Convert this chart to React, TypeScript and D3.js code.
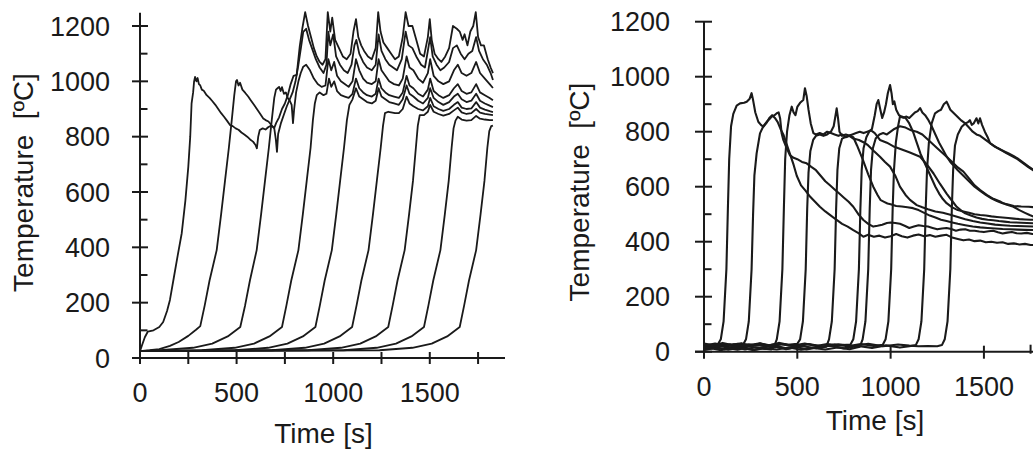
import React from 'react';
import * as d3 from 'd3';

type Pt = [number, number];

// ---------- shared tick values ----------
const yMajorTicks = [0, 200, 400, 600, 800, 1000, 1200];
const yMinorTicks = [100, 300, 500, 700, 900, 1100];
const xLabelTicks = [0, 500, 1000, 1500];
const xTicksLeft = [0, 250, 500, 750, 1000, 1250, 1500, 1750];
const xTicksRightMajor = [0, 500, 1000, 1500];
const xTicksRightMinor = [1750];
const yTitle = 'Temperature  [ºC]';
const xTitle = 'Time [s]';

// ---------- left panel series (time s, temperature °C) ----------
const left1: Pt[] = [[0,25],[10,45],[25,75],[40,95],[70,100],[100,112],[120,130],[140,170],[155,210],[175,290],[195,370],[216,451],[235,570],[250,691],[260,800],[267,920],[275,960],[280,1000],[285,1016],[292,1000],[298,1012],[305,990],[312,985],[320,970],[330,966],[345,950],[360,940],[375,928],[390,915],[405,900],[420,885],[435,872],[450,858],[466,842],[480,838],[495,830],[510,825],[525,815],[540,808],[555,800],[570,790],[585,782],[598,770],[605,758],[612,800],[620,824],[635,830],[650,826],[665,835],[680,840],[695,832],[705,850],[720,870],[735,900],[750,920],[765,950],[780,990],[795,1020],[811,1023],[827,1127],[840,1190],[855,1250],[870,1200],[885,1160],[900,1120],[915,1090],[930,1070],[945,1060],[960,1080],[972,1250],[985,1180],[995,1230],[1010,1150],[1030,1120],[1050,1090],[1070,1080],[1090,1100],[1105,1180],[1118,1225],[1130,1160],[1145,1130],[1160,1110],[1180,1090],[1200,1080],[1220,1120],[1233,1250],[1245,1180],[1260,1140],[1280,1120],[1300,1100],[1320,1080],[1340,1090],[1360,1160],[1375,1250],[1390,1200],[1410,1200],[1430,1150],[1450,1100],[1470,1090],[1490,1160],[1500,1225],[1510,1150],[1525,1100],[1545,1080],[1560,1070],[1580,1090],[1600,1120],[1620,1200],[1640,1190],[1655,1180],[1670,1150],[1680,1170],[1695,1130],[1710,1180],[1725,1200],[1738,1250],[1750,1160],[1765,1130],[1780,1130],[1800,1080],[1815,1050],[1827,1030]];
const left2: Pt[] = [[0,25],[50,28],[100,32],[155,44],[200,58],[250,80],[290,102],[312,115],[335,190],[360,280],[397,390],[420,520],[440,640],[460,760],[475,860],[488,950],[497,1000],[502,1005],[510,985],[518,995],[530,970],[545,958],[560,945],[575,930],[590,915],[605,900],[620,885],[638,866],[650,860],[665,855],[680,842],[695,830],[703,790],[709,745],[715,810],[730,850],[745,880],[760,910],[775,935],[790,960],[805,1000],[820,1060],[835,1130],[845,1179],[860,1190],[875,1150],[890,1120],[910,1080],[930,1050],[950,1030],[965,1060],[975,1180],[985,1130],[1000,1170],[1015,1090],[1035,1060],[1055,1040],[1075,1030],[1095,1060],[1110,1130],[1120,1150],[1135,1100],[1155,1070],[1175,1050],[1200,1040],[1220,1060],[1235,1170],[1250,1110],[1270,1080],[1290,1060],[1310,1050],[1330,1040],[1355,1080],[1375,1180],[1390,1130],[1410,1120],[1430,1090],[1455,1060],[1475,1050],[1490,1110],[1502,1160],[1515,1090],[1535,1060],[1555,1040],[1575,1050],[1600,1070],[1620,1120],[1640,1130],[1660,1100],[1680,1080],[1700,1100],[1720,1110],[1740,1160],[1755,1110],[1775,1080],[1795,1060],[1815,1030],[1827,1005]];
const left3: Pt[] = [[0,25],[104,28],[274,37],[374,52],[454,78],[519,112],[544,190],[569,280],[604,390],[627,520],[647,640],[667,760],[682,860],[695,940],[704,970],[712,975],[720,980],[728,965],[735,979],[745,955],[755,960],[765,940],[775,930],[785,915],[792,849],[798,900],[808,960],[820,1000],[832,1030],[845,1053],[860,1060],[880,1040],[900,1010],[920,990],[940,980],[960,985],[975,1080],[990,1040],[1005,1070],[1020,1020],[1040,1000],[1060,990],[1080,980],[1100,1000],[1118,1080],[1135,1040],[1155,1010],[1175,995],[1200,990],[1220,1000],[1235,1080],[1250,1040],[1270,1020],[1290,1000],[1315,990],[1340,985],[1360,1010],[1380,1090],[1395,1050],[1415,1040],[1440,1010],[1465,995],[1490,1030],[1502,1080],[1520,1020],[1545,1000],[1570,990],[1600,1000],[1625,1040],[1645,1060],[1665,1030],[1690,1020],[1715,1030],[1740,1070],[1760,1030],[1785,1010],[1810,990],[1827,976]];
const left4: Pt[] = [[0,25],[320,28],[490,37],[590,52],[670,78],[735,112],[758,190],[783,280],[820,390],[843,520],[863,640],[883,760],[895,860],[905,920],[915,950],[930,960],[950,950],[965,955],[978,1010],[990,980],[1005,1000],[1020,965],[1040,950],[1060,945],[1080,940],[1100,955],[1118,1010],[1135,975],[1155,960],[1175,950],[1200,945],[1220,955],[1235,1010],[1250,975],[1270,960],[1290,950],[1315,945],[1340,940],[1360,960],[1380,1020],[1395,985],[1415,975],[1440,955],[1465,945],[1490,970],[1502,1010],[1520,965],[1545,950],[1570,940],[1600,950],[1625,975],[1645,990],[1665,965],[1690,955],[1715,960],[1740,990],[1760,960],[1785,950],[1810,940],[1827,932]];
const left5: Pt[] = [[0,25],[493,28],[663,37],[763,52],[843,78],[908,112],[931,190],[956,280],[993,390],[1016,520],[1036,640],[1056,760],[1071,860],[1084,915],[1100,935],[1118,975],[1135,945],[1155,935],[1175,925],[1200,920],[1220,930],[1235,975],[1250,945],[1270,935],[1290,925],[1315,920],[1340,915],[1360,935],[1380,985],[1395,955],[1415,945],[1440,930],[1465,920],[1490,940],[1502,975],[1520,940],[1545,925],[1570,915],[1600,925],[1625,945],[1645,955],[1665,935],[1690,925],[1715,930],[1740,955],[1760,930],[1785,920],[1810,912],[1827,907]];
const left6: Pt[] = [[0,25],[683,28],[853,37],[953,52],[1033,78],[1098,112],[1121,190],[1146,280],[1183,390],[1206,520],[1226,640],[1246,760],[1258,840],[1268,885],[1285,890],[1300,888],[1320,885],[1340,885],[1360,900],[1380,945],[1395,920],[1415,910],[1440,900],[1465,895],[1490,910],[1502,940],[1520,910],[1545,900],[1570,893],[1600,900],[1625,915],[1645,925],[1665,905],[1690,900],[1715,902],[1740,925],[1760,905],[1785,898],[1810,892],[1827,889]];
const left7: Pt[] = [[0,25],[870,28],[1040,37],[1140,52],[1220,78],[1285,112],[1308,190],[1333,280],[1370,390],[1393,520],[1413,640],[1428,760],[1438,840],[1448,878],[1470,878],[1490,890],[1502,915],[1520,890],[1545,882],[1570,876],[1600,882],[1625,895],[1645,905],[1665,888],[1690,882],[1715,885],[1740,900],[1760,887],[1785,882],[1810,880],[1827,878]];
const left8: Pt[] = [[0,25],[1055,28],[1225,37],[1325,52],[1405,78],[1470,112],[1493,190],[1518,280],[1555,390],[1578,520],[1598,640],[1613,760],[1623,830],[1633,858],[1645,872],[1665,862],[1690,858],[1715,860],[1740,875],[1760,865],[1785,862],[1810,860],[1827,860]];
const left9: Pt[] = [[0,25],[1240,28],[1410,37],[1510,52],[1590,78],[1655,112],[1678,190],[1703,280],[1740,390],[1763,520],[1783,640],[1798,760],[1808,820],[1818,838],[1827,840]];

// ---------- right panel series ----------
const right1: Pt[] = [[0,20],[25,14],[50,24],[75,28],[90,45],[105,110],[120,300],[128,520],[135,700],[145,820],[157,865],[175,895],[193,903],[215,905],[229,909],[245,920],[255,940],[263,915],[275,870],[291,836],[305,825],[318,818],[335,832],[350,850],[365,860],[380,850],[395,835],[410,810],[425,790],[440,760],[460,720],[480,680],[497,640],[520,605],[545,585],[568,564],[595,545],[621,527],[650,510],[680,495],[711,479],[740,465],[770,455],[800,442],[830,430],[854,418],[880,425],[910,418],[940,422],[970,415],[1000,420],[1030,428],[1060,420],[1090,415],[1120,422],[1150,426],[1180,420],[1210,424],[1240,418],[1270,422],[1300,425],[1330,415],[1360,410],[1390,405],[1420,408],[1450,402],[1480,404],[1510,398],[1540,400],[1570,396],[1600,398],[1630,392],[1660,394],[1690,390],[1720,392],[1750,388],[1780,388]];
const right2: Pt[] = [[0,24],[40,17],[80,26],[120,19],[160,27],[195,22],[210,26],[225,45],[240,110],[255,300],[263,500],[270,640],[282,721],[300,794],[318,820],[336,836],[350,845],[363,855],[378,860],[390,867],[400,870],[408,848],[416,794],[425,770],[440,745],[460,715],[480,705],[500,700],[525,690],[550,685],[575,672],[600,660],[625,640],[650,620],[675,605],[700,590],[725,575],[750,560],[775,545],[800,527],[827,500],[854,479],[880,465],[907,455],[930,458],[955,462],[980,468],[1000,470],[1025,468],[1050,465],[1075,458],[1100,450],[1125,455],[1150,460],[1175,457],[1200,455],[1225,450],[1250,445],[1275,448],[1300,450],[1325,446],[1350,440],[1375,444],[1400,445],[1425,440],[1450,440],[1475,437],[1500,435],[1525,438],[1550,440],[1575,434],[1600,430],[1625,433],[1650,435],[1675,431],[1700,430],[1730,432],[1760,428],[1780,428]];
const right3: Pt[] = [[0,6],[45,12],[90,5],[135,13],[180,7],[225,14],[270,6],[315,12],[360,8],[375,18],[390,45],[405,110],[420,300],[428,520],[435,700],[445,800],[458,860],[470,891],[480,870],[490,860],[500,890],[515,905],[532,915],[541,958],[550,930],[560,880],[572,830],[586,795],[600,790],[620,795],[640,790],[660,800],[680,795],[700,790],[720,785],[740,790],[760,780],[780,785],[800,775],[830,770],[860,760],[880,750],[910,730],[943,709],[970,690],[997,673],[1025,640],[1050,600],[1080,570],[1104,552],[1140,533],[1170,525],[1200,518],[1240,510],[1280,505],[1320,498],[1360,490],[1400,482],[1440,475],[1480,470],[1520,466],[1560,462],[1600,460],[1640,458],[1680,457],[1720,456],[1780,455]];
const right4: Pt[] = [[0,30],[50,23],[100,32],[150,24],[200,31],[250,22],[300,30],[350,23],[400,32],[450,25],[500,29],[515,45],[530,110],[545,300],[553,520],[560,650],[570,730],[585,770],[600,785],[620,790],[640,785],[660,790],[680,800],[695,820],[705,860],[711,885],[718,850],[726,800],[740,785],[760,790],[780,785],[800,780],[820,750],[850,700],[880,645],[907,600],[930,570],[947,551],[965,545],[983,539],[1000,536],[1030,530],[1060,528],[1090,525],[1120,522],[1150,515],[1180,505],[1210,495],[1240,488],[1270,480],[1300,475],[1330,470],[1360,465],[1400,460],[1440,455],[1480,452],[1520,450],[1560,448],[1600,446],[1640,445],[1680,444],[1720,443],[1780,442]];
const right5: Pt[] = [[0,10],[55,18],[110,9],[165,17],[220,8],[275,16],[330,10],[385,18],[440,9],[495,17],[550,8],[605,16],[655,18],[670,45],[685,110],[700,300],[708,520],[715,660],[725,740],[740,775],[755,780],[775,785],[795,790],[815,795],[835,800],[855,795],[875,800],[895,805],[915,795],[943,770],[980,760],[1020,745],[1060,735],[1100,725],[1158,709],[1195,680],[1230,648],[1265,610],[1300,575],[1330,548],[1354,527],[1380,512],[1400,503],[1430,495],[1460,488],[1490,483],[1520,480],[1550,478],[1580,475],[1610,473],[1640,471],[1670,470],[1700,469],[1730,468],[1780,467]];
const right6: Pt[] = [[0,22],[60,30],[120,21],[180,29],[240,23],[300,31],[360,20],[420,28],[480,22],[540,30],[600,21],[660,28],[720,23],[785,26],[800,45],[815,110],[830,300],[838,520],[845,660],[855,740],[870,780],[885,800],[900,810],[915,860],[925,900],[934,915],[945,880],[955,850],[965,870],[975,900],[985,940],[997,970],[1005,940],[1012,900],[1020,910],[1030,880],[1045,860],[1060,855],[1080,850],[1100,830],[1120,800],[1140,760],[1160,720],[1180,690],[1200,660],[1220,630],[1240,600],[1260,575],[1280,555],[1300,540],[1330,525],[1360,515],[1390,510],[1420,505],[1450,500],[1480,497],[1510,495],[1540,492],[1570,490],[1600,488],[1630,486],[1660,484],[1690,482],[1720,481],[1750,480],[1780,480]];
const right7: Pt[] = [[0,8],[65,14],[130,7],[195,15],[260,6],[325,13],[390,8],[455,15],[520,7],[585,14],[650,8],[715,15],[780,9],[835,18],[850,45],[865,110],[880,300],[888,520],[895,660],[905,740],[920,775],[940,790],[960,795],[980,790],[1000,800],[1020,810],[1050,820],[1080,815],[1110,805],[1140,800],[1170,790],[1211,764],[1250,740],[1290,715],[1330,690],[1360,670],[1390,655],[1420,630],[1450,605],[1480,588],[1515,570],[1550,556],[1590,545],[1620,535],[1658,527],[1690,515],[1720,505],[1745,497],[1780,488]];
const right8: Pt[] = [[0,26],[70,19],[140,27],[210,18],[280,26],[350,20],[420,28],[490,19],[560,27],[630,18],[700,26],[770,20],[840,28],[910,21],[958,25],[973,45],[988,110],[1003,300],[1011,520],[1018,660],[1028,760],[1040,820],[1050,855],[1068,851],[1085,855],[1100,850],[1115,860],[1130,870],[1145,875],[1158,886],[1170,870],[1185,860],[1200,845],[1220,820],[1240,790],[1260,760],[1280,735],[1300,710],[1320,690],[1340,675],[1360,660],[1390,640],[1420,620],[1450,600],[1480,585],[1510,570],[1540,558],[1570,548],[1600,540],[1630,535],[1660,530],[1700,528],[1740,527],[1780,525]];
const right9: Pt[] = [[0,14],[75,22],[150,12],[225,21],[300,13],[375,23],[450,11],[525,20],[600,13],[675,22],[750,12],[825,21],[900,14],[975,23],[1050,15],[1100,20],[1135,24],[1150,45],[1165,110],[1180,300],[1188,520],[1195,660],[1205,760],[1220,830],[1238,867],[1255,875],[1270,880],[1285,900],[1300,909],[1310,895],[1320,880],[1335,870],[1350,860],[1365,850],[1380,840],[1400,830],[1420,815],[1440,800],[1460,790],[1480,785],[1500,775],[1520,765],[1540,755],[1560,745],[1580,738],[1600,730],[1620,722],[1640,715],[1660,708],[1680,700],[1700,690],[1720,680],[1740,670],[1763,660],[1780,655]];
const right10: Pt[] = [[0,20],[80,28],[160,19],[240,27],[320,21],[400,29],[480,20],[560,28],[640,19],[720,27],[800,21],[880,29],[960,20],[1040,26],[1100,22],[1150,20],[1200,21],[1250,20],[1275,24],[1290,45],[1305,110],[1320,300],[1328,520],[1335,660],[1345,750],[1360,790],[1381,818],[1400,830],[1415,835],[1425,842],[1435,825],[1445,830],[1460,849],[1470,830],[1479,849],[1490,825],[1505,800],[1520,780],[1533,758],[1550,750],[1570,742],[1590,735],[1610,728],[1630,722],[1658,712],[1680,703],[1700,693],[1720,683],[1740,673],[1763,663],[1780,658]];

const leftSeries = [left1, left2, left3, left4, left5, left6, left7, left8, left9];
const rightSeries = [right1, right2, right3, right4, right5, right6, right7, right8, right9, right10];

const FONT = '"Liberation Sans", Arial, Helvetica, sans-serif';
const INK = '#1a1a1a';

type PanelProps = {
  series: Pt[][];
  x: d3.ScaleLinear<number, number>;
  y: d3.ScaleLinear<number, number>;
  axisTop: number;
  xAxisStart: number;
  xAxisEnd: number;
  xMajor: number[];
  xMinor: number[];
  xMajorUp: number;
  xMajorDown: number;
  yMajorLeft: number;
  yMajorRight: number;
  yMinorRight: number;
  yLabelX: number;
  xLabelY: number;
  xTitleX: number;
  xTitleY: number;
  yTitleX: number;
  yTitleY: number;
  lineWidth: number;
  clipId: string;
  clipTop: number;
};

function Panel(p: PanelProps) {
  const line = d3.line<Pt>().x(d => p.x(d[0])).y(d => p.y(d[1]));
  const y0 = p.y(0);
  const ax = p.x(0);
  return (
    <g>
      <defs>
        <clipPath id={p.clipId}>
          <rect x={ax} y={p.clipTop} width={p.xAxisEnd - ax + 40} height={y0 - p.clipTop + 2} />
        </clipPath>
      </defs>
      <g clipPath={`url(#${p.clipId})`} fill="none" stroke={INK} strokeWidth={p.lineWidth} strokeLinejoin="round">
        {p.series.map((s, i) => (
          <path key={i} d={line(s) || ''} />
        ))}
      </g>
      <g stroke={INK} strokeWidth={2} fill="none">
        <line x1={ax} x2={ax} y1={p.axisTop} y2={y0} />
        <line x1={p.xAxisStart} x2={p.xAxisEnd} y1={y0} y2={y0} />
        {yMajorTicks.map(v => (
          <line key={'ym' + v} x1={ax - p.yMajorLeft} x2={ax + p.yMajorRight} y1={p.y(v)} y2={p.y(v)} />
        ))}
        {yMinorTicks.map(v => (
          <line key={'yn' + v} x1={ax} x2={ax + p.yMinorRight} y1={p.y(v)} y2={p.y(v)} />
        ))}
        {p.xMajor.map(v => (
          <line key={'xm' + v} x1={p.x(v)} x2={p.x(v)} y1={y0 - p.xMajorUp} y2={y0 + p.xMajorDown} />
        ))}
        {p.xMinor.map(v => (
          <line key={'xn' + v} x1={p.x(v)} x2={p.x(v)} y1={y0 - 7} y2={y0 + 2} />
        ))}
      </g>
      <g fill={INK} fontFamily={FONT} fontSize={27}>
        {yMajorTicks.map(v => (
          <text key={'yl' + v} x={p.yLabelX} y={p.y(v) + 9.5} textAnchor="end">{v}</text>
        ))}
        {xLabelTicks.map(v => (
          <text key={'xl' + v} x={p.x(v)} y={p.xLabelY} textAnchor="middle">{v}</text>
        ))}
      </g>
      <text x={p.xTitleX} y={p.xTitleY} textAnchor="middle" fontFamily={FONT} fontSize={28} fill={INK}>{xTitle}</text>
      <text
        transform={`translate(${p.yTitleX},${p.yTitleY}) rotate(-90)`}
        textAnchor="middle"
        fontFamily={FONT}
        fontSize={28}
        fill={INK}
        style={{ whiteSpace: 'pre' }}
      >{yTitle}</text>
    </g>
  );
}

export default function App() {
  const xL = d3.scaleLinear().domain([0, 1879]).range([140, 503]);
  const yL = d3.scaleLinear().domain([0, 1200]).range([358, 26]);
  const xR = d3.scaleLinear().domain([0, 1763]).range([704, 1033]);
  const yR = d3.scaleLinear().domain([0, 1200]).range([351.7, 21.7]);

  return (
    <svg
      width={1033}
      height={450}
      viewBox="0 0 1033 450"
      style={{ position: 'absolute', left: 0, top: 0, display: 'block', background: '#fff' }}
    >
      <rect x={0} y={0} width={1033} height={450} fill="#fff" />
      <Panel
        series={leftSeries}
        x={xL}
        y={yL}
        axisTop={12.7}
        xAxisStart={132}
        xAxisEnd={505}
        xMajor={xTicksLeft}
        xMinor={[]}
        xMajorUp={6}
        xMajorDown={6}
        yMajorLeft={8}
        yMajorRight={8}
        yMinorRight={7.5}
        yLabelX={110}
        xLabelY={402}
        xTitleX={323.5}
        xTitleY={443}
        yTitleX={33}
        yTitleY={182.5}
        lineWidth={1.8}
        clipId="clipL"
        clipTop={11}
      />
      <Panel
        series={rightSeries}
        x={xR}
        y={yR}
        axisTop={21.7}
        xAxisStart={695}
        xAxisEnd={1040}
        xMajor={xTicksRightMajor}
        xMinor={xTicksRightMinor}
        xMajorUp={6}
        xMajorDown={7}
        yMajorLeft={9}
        yMajorRight={8}
        yMinorRight={7.5}
        yLabelX={670}
        xLabelY={396}
        xTitleX={875}
        xTitleY={430}
        yTitleX={589}
        yTitleY={192}
        lineWidth={2.1}
        clipId="clipR"
        clipTop={5}
      />
    </svg>
  );
}
